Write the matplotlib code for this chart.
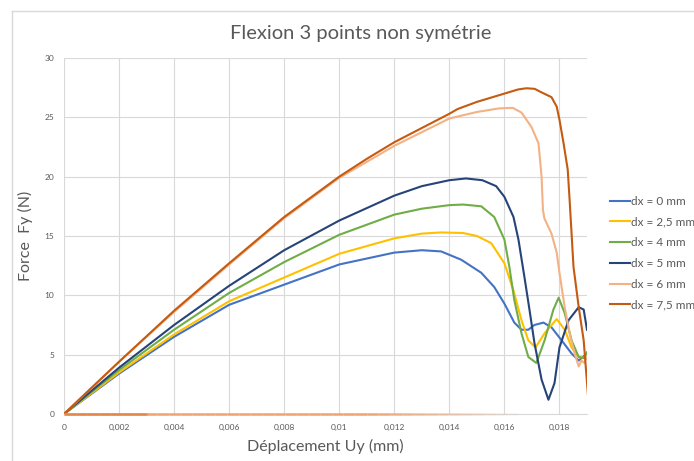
import numpy as np
import matplotlib
matplotlib.use("Agg")
import matplotlib.pyplot as plt
from matplotlib.lines import Line2D
from matplotlib.ticker import FuncFormatter

plt.rcParams["font.family"] = ["Lato", "DejaVu Sans"]

# values (x in mm, force in N)
x_dx0 = [0, 0.002, 0.004, 0.006, 0.008, 0.010, 0.011, 0.012, 0.013, 0.0137, 0.01443, 0.01516,
         0.01563, 0.0160, 0.01636, 0.01662, 0.01687, 0.01709, 0.01742, 0.01771, 0.01808, 0.01844,
         0.0187, 0.0190]
y_dx0 = [0, 3.4, 6.5, 9.2, 10.9, 12.6, 13.1, 13.6, 13.8, 13.7, 13.0, 11.9,
         10.7, 9.3, 7.7, 7.1, 7.1, 7.5, 7.7, 7.3, 6.2, 5.1,
         4.5, 5.1]

x_dx25 = [0, 0.002, 0.004, 0.006, 0.008, 0.010, 0.012, 0.013, 0.0137, 0.0145, 0.0150, 0.01552,
          0.0160, 0.01633, 0.01662, 0.01687, 0.01713, 0.01746, 0.0179, 0.01819, 0.01844, 0.0187,
          0.0190]
y_dx25 = [0, 3.5, 6.7, 9.5, 11.5, 13.5, 14.8, 15.2, 15.3, 15.25, 15.0, 14.4,
          12.7, 10.4, 7.9, 6.2, 5.6, 6.8, 8.0, 7.1, 5.6, 4.8,
          4.7]

x_dx4 = [0, 0.002, 0.004, 0.006, 0.008, 0.010, 0.012, 0.013, 0.0140, 0.0145, 0.01516, 0.01563,
         0.0160, 0.01618, 0.01636, 0.01662, 0.01687, 0.01716, 0.01746, 0.01778, 0.01797, 0.01819,
         0.01844, 0.0187, 0.01888, 0.0190]
y_dx4 = [0, 3.7, 7.1, 10.2, 12.8, 15.1, 16.8, 17.3, 17.6, 17.65, 17.5, 16.6,
         14.7, 12.4, 9.6, 6.8, 4.8, 4.3, 6.2, 8.8, 9.8, 8.5,
         6.2, 4.8, 4.7, 5.2]

x_dx5 = [0, 0.002, 0.004, 0.006, 0.008, 0.010, 0.012, 0.013, 0.014, 0.0146, 0.0152, 0.0157,
         0.0160, 0.01633, 0.01651, 0.01673, 0.01691, 0.01709, 0.01735, 0.0176, 0.01782, 0.0180,
         0.01833, 0.0187, 0.01888, 0.0190]
y_dx5 = [0, 3.9, 7.5, 10.8, 13.8, 16.3, 18.4, 19.2, 19.7, 19.85, 19.7, 19.2,
         18.3, 16.6, 14.7, 11.5, 8.8, 6.0, 2.9, 1.2, 2.6, 5.6,
         7.9, 9.0, 8.8, 7.1]

x_dx6 = [0, 0.002, 0.004, 0.006, 0.008, 0.010, 0.012, 0.014, 0.015, 0.0158, 0.0163, 0.01662,
         0.01698, 0.01724, 0.01735, 0.0174, 0.01745, 0.01771, 0.0179, 0.0180, 0.01819, 0.01837,
         0.01855, 0.0187, 0.0188, 0.0189, 0.0190]
y_dx6 = [0, 4.4, 8.6, 12.6, 16.5, 19.9, 22.6, 24.9, 25.45, 25.75, 25.8, 25.4,
         24.2, 22.8, 20.0, 17.2, 16.5, 15.2, 13.6, 11.9, 9.0, 6.8,
         5.1, 4.0, 4.5, 4.3, 4.8]

x_dx75 = [0, 0.002, 0.004, 0.006, 0.008, 0.010, 0.011, 0.012, 0.013, 0.014, 0.0143, 0.015,
          0.016, 0.0165, 0.0168, 0.0171, 0.01735, 0.01771, 0.0179, 0.0180, 0.01815, 0.0183,
          0.01837, 0.01851, 0.0187, 0.01888, 0.01906]
y_dx75 = [0, 4.4, 8.7, 12.7, 16.6, 20.0, 21.5, 22.9, 24.1, 25.3, 25.7, 26.3,
          27.0, 27.35, 27.45, 27.4, 27.1, 26.7, 25.9, 24.8, 22.8, 20.6,
          18.0, 12.4, 9.0, 6.2, 0.9]

# faint return line along zero
x_zero = [0, 0.0165]

labels = ["dx = 0 mm", "dx = 2,5 mm", "dx = 4 mm", "dx = 5 mm", "dx = 6 mm", "dx = 7,5 mm"]
colors = ["#4472C4", "#FFC000", "#70AD47", "#264478", "#F4B183", "#C55A11"]
series = [(x_dx0, y_dx0), (x_dx25, y_dx25), (x_dx4, y_dx4),
          (x_dx5, y_dx5), (x_dx6, y_dx6), (x_dx75, y_dx75)]

x_ticks = np.arange(0, 0.0181, 0.002)
y_ticks = [0, 5, 10, 15, 20, 25, 30]

text_grey = "#595959"
grid_grey = "#D9D9D9"

fig = plt.figure(figsize=(6.94, 4.61), dpi=100)
ax = fig.add_axes([0.0922, 0.1020, 0.7536, 0.7722])

# zero line: solid at the start, fading out towards the right
zx = np.linspace(x_zero[0], x_zero[1], 40)
for k in range(len(zx) - 1):
    frac = k / (len(zx) - 1)
    a = 1.0 if frac < 0.65 else max(0.05, 1 - (frac - 0.65) / 0.35)
    ax.plot(zx[k:k + 2], [0, 0], color="#F0A36E", lw=1.8, alpha=a,
            solid_capstyle="butt", zorder=4, clip_on=False)
ax.plot([x_zero[0], 0.003], [0, 0], color="#E07B39", lw=1.8, alpha=0.7,
        solid_capstyle="butt", zorder=4, clip_on=False)

for (xs, ys), lab, col in zip(series, labels, colors):
    ax.plot(xs, ys, color=col, lw=1.5, label=lab, zorder=3)

ax.set_xlim(0, 0.0190)
ax.set_ylim(0, 30)
ax.set_xticks(x_ticks)
ax.set_yticks(y_ticks)


def comma_fmt(v, pos):
    s = f"{v:.3f}".rstrip("0").rstrip(".")
    return s.replace(".", ",")


ax.xaxis.set_major_formatter(FuncFormatter(comma_fmt))
ax.tick_params(length=0, labelsize=6, labelcolor=text_grey, pad=7)
ax.grid(True, color=grid_grey, lw=0.8)
ax.set_axisbelow(True)
for side in ["top", "right", "left"]:
    ax.spines[side].set_visible(False)
ax.spines["bottom"].set_color(grid_grey)

ax.set_xlabel("Déplacement Uy (mm)", fontsize=11.5, color=text_grey, labelpad=6)
ax.set_ylabel("Force  Fy (N)", fontsize=11.5, color=text_grey, labelpad=8)

fig.text(361 / 694, 1 - 33 / 461, "Flexion 3 points non symétrie",
         ha="center", va="center", fontsize=14.5, color=text_grey)

fig.legend(loc="upper left", bbox_to_anchor=(0.879, 0.575), frameon=False,
           fontsize=8.5, labelcolor=text_grey, handlelength=1.7, handletextpad=0.1,
           labelspacing=0.82, borderpad=0, borderaxespad=0)

# chart-area border (top and left edges of the cropped screenshot)
fig.add_artist(Line2D([12 / 694, 12 / 694], [0, 1 - 11 / 461], color=grid_grey, lw=1,
                      transform=fig.transFigure))
fig.add_artist(Line2D([12 / 694, 1], [1 - 11 / 461, 1 - 11 / 461], color=grid_grey, lw=1,
                      transform=fig.transFigure))

fig.savefig("out.png", dpi=100)
